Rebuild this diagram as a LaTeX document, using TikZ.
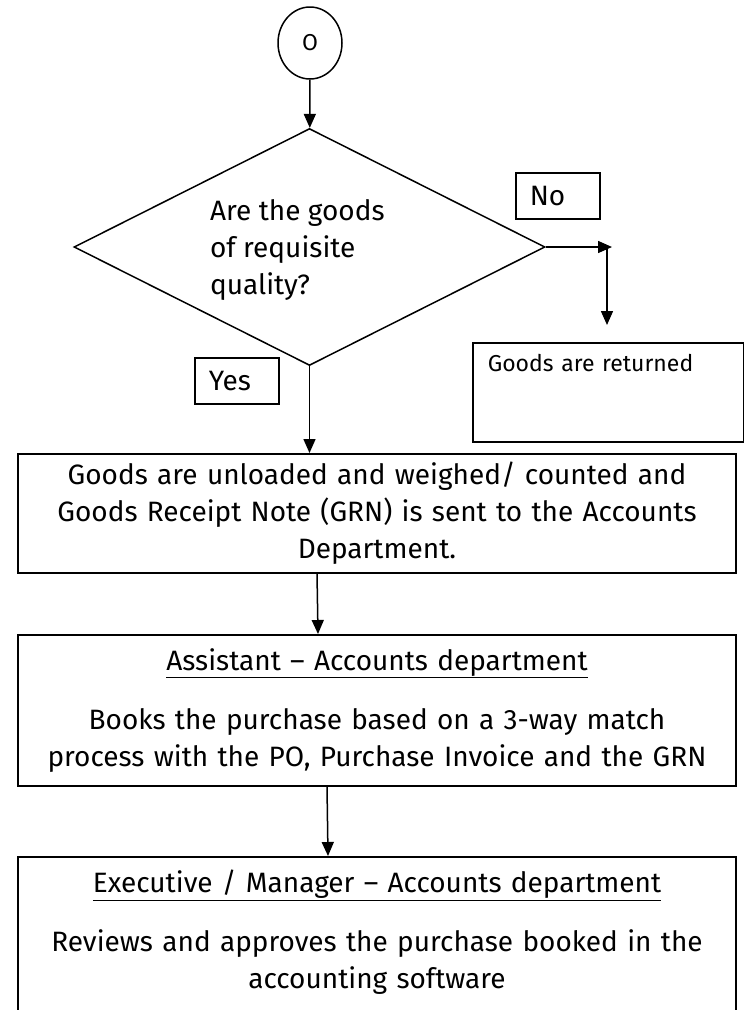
\documentclass[tikz,border=0pt]{standalone}
\usepackage{fontspec}
\setmainfont{Fira Sans}
\usetikzlibrary{shapes.geometric,arrows.meta}

\begin{document}
\begin{tikzpicture}[
        x=1pt, y=-1pt,
        line width=1.5pt,
        >={Triangle[length=14pt,width=12pt]},
        every node/.style={font=\fontsize{28}{37}\selectfont},
        smalltext/.style={font=\fontsize{23}{27}\selectfont},
        stepbox/.style={draw, anchor=north, minimum width=718pt, text width=710pt, align=center, inner sep=0pt},
        tagbox/.style={draw, anchor=north west, inner xsep=14pt, inner ysep=0pt, minimum height=46pt, text width=56pt, align=left}
        ]
        \useasboundingbox (0,0) rectangle (744,1010);
        \clip (0,0) rectangle (744,1010);

        \node (start) [draw, ellipse, minimum width=64pt, minimum height=72pt, inner sep=0pt, smalltext] at (310,43) {O};
        \node (quality) [draw, diamond, minimum width=471pt, minimum height=237pt, inner sep=0pt] at (309.5,247) {};
        \node (question) [anchor=west, align=left] at (206,250) {Are the goods\\of requisite\\quality?};
        \node (nolabel) [tagbox] at (515,172) {No};
        \node (yeslabel) [tagbox] at (194,357) {Yes};
        \node (returned) [draw, anchor=north west, smalltext, inner xsep=15pt, inner ysep=8pt,
            text width=241pt, text height=21pt, text depth=62pt] at (472,342) {Goods are returned};

        \node (unload) [stepbox, minimum height=119pt] at (377,453) {Goods are unloaded and weighed/ counted and\\Goods Receipt Note (GRN) is sent to the Accounts\\Department.};
        \node (assist) [stepbox, minimum height=151pt] at (377,634) {\underline{Assistant – Accounts department}\\[22pt]Books the purchase based on a 3-way match\\process with the PO, Purchase Invoice and the GRN};
        \node (approve) [stepbox, inner ysep=13pt] at (377,856) {\underline{Executive / Manager – Accounts department}\\[22pt]Reviews and approves the purchase booked in the\\accounting software\\[40pt]\mbox{}};

        % "No" branch turns down towards the returned goods
        \coordinate (noend) at (612,247);
        \coordinate (nodrop) at (607,247);
        \coordinate (nobottom) at (607,325);

        \path[->]
        (start)                     edge    (quality)
        (quality.east)              edge    (noend)
        (nodrop)                    edge    (nobottom)
        (quality.south)             edge    (quality.south |- unload.north)
        ([xshift=-60pt]unload.south) edge   ([xshift=-59pt]assist.north)
        ([xshift=-50pt]assist.south) edge   ([xshift=-49pt]approve.north)
        ;
    \end{tikzpicture}
\end{document}
